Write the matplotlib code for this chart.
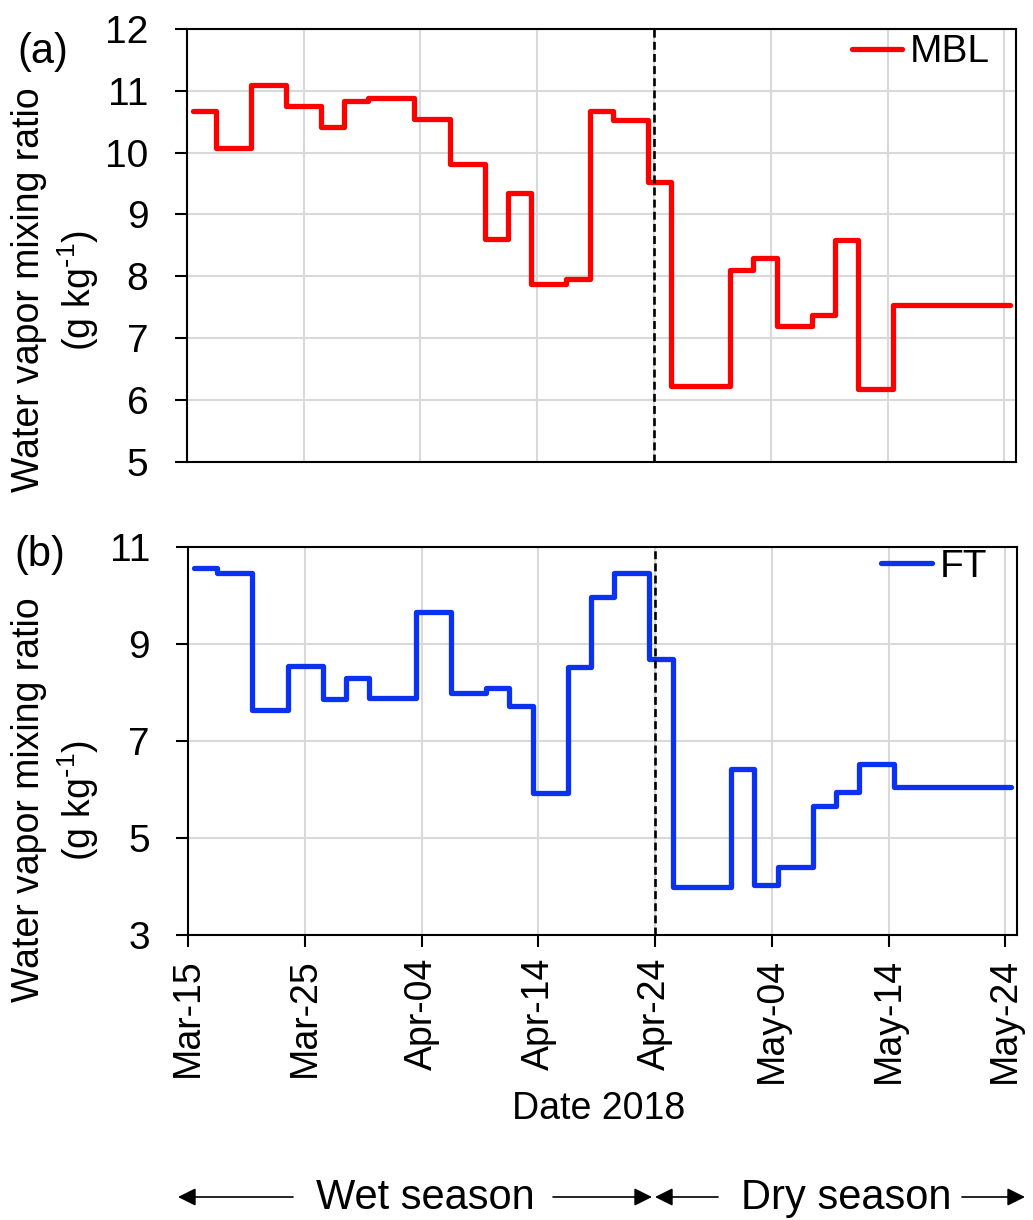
import matplotlib
matplotlib.use('Agg')
import matplotlib.pyplot as plt
import matplotlib.dates as mdates
import datetime as dt

plt.rcParams['font.family'] = ['Liberation Sans', 'DejaVu Sans']
plt.rcParams['mathtext.default'] = 'regular'

# ---------------- data ----------------
start_date = dt.datetime(2018, 3, 15)
# step edges, days after Mar-15
edge_days = [0.5, 2.5, 5.5, 8.5, 11.5, 13.5, 15.5, 19.5, 22.5, 25.5, 27.5, 29.5,
             32.5, 34.5, 36.5, 39.5, 41.5, 46.5, 48.5, 50.5, 53.5, 55.5, 57.5, 60.5, 70.5]
mbl = [10.68, 10.07, 11.10, 10.76, 10.42, 10.83, 10.88, 10.55, 9.82, 8.60, 9.35, 7.87,
       7.95, 10.68, 10.53, 9.52, 6.22, 8.10, 8.30, 7.20, 7.37, 8.59, 6.17, 7.53]
ft = [10.57, 10.46, 7.64, 8.55, 7.86, 8.30, 7.89, 9.65, 8.00, 8.09, 7.72, 5.92,
      8.52, 9.96, 10.47, 8.70, 3.98, 6.43, 4.03, 4.41, 5.65, 5.94, 6.53, 6.05]
tick_dates = ['2018-03-15', '2018-03-25', '2018-04-04', '2018-04-14',
              '2018-04-24', '2018-05-04', '2018-05-14', '2018-05-24']
season_split = '2018-04-24'
x_limits = ['2018-03-15', '2018-05-25']
yticks_a = [5, 6, 7, 8, 9, 10, 11, 12]
yticks_b = [3, 5, 7, 9, 11]
series_names = ['MBL', 'FT']
panel_labels = ['(a)', '(b)']
season_names = ['Wet season', 'Dry season']
ylabel_line1 = 'Water vapor mixing ratio'
ylabel_line2 = r'(g kg$^{\text{-}1}$)'
xlabel = 'Date 2018'

# ---------------- figure ----------------
W, H = 1033, 1220
fig = plt.figure(figsize=(W / 100, H / 100), dpi=100)


def fx(px):
    return px / W


def fy(py):
    return 1 - py / H


ax1 = fig.add_axes([fx(186.7), fy(461.7), fx(1016 - 186.7), (461.7 - 29) / H])
ax2 = fig.add_axes([fx(188.3), fy(935), fx(1017 - 188.3), (935 - 547) / H])

edges = [mdates.date2num(start_date + dt.timedelta(days=d)) for d in edge_days]
tick_nums = [mdates.date2num(dt.datetime.fromisoformat(t)) for t in tick_dates]
split_num = mdates.date2num(dt.datetime.fromisoformat(season_split))
xlim = [mdates.date2num(dt.datetime.fromisoformat(t)) for t in x_limits]

colors = ['#ff0000', '#0a32f0']
grid_c = '#d9d9d9'
LW = 3.8

for ax, vals, col, name, yt in [(ax1, mbl, colors[0], series_names[0], yticks_a),
                                 (ax2, ft, colors[1], series_names[1], yticks_b)]:
    ax.step(edges, vals + [vals[-1]], where='post', color=col, lw=LW,
            solid_capstyle='round', solid_joinstyle='round', zorder=3, label=name)
    ax.axvline(split_num, color='black', lw=1.9, ls=(0, (3.0, 1.6)), zorder=4)
    ax.set_xlim(xlim)
    ax.set_ylim(yt[0], yt[-1])
    ax.set_yticks(yt)
    ax.set_xticks(tick_nums)
    ax.xaxis.set_major_formatter(mdates.DateFormatter('%b-%d'))
    ax.grid(True, color=grid_c, lw=1.5, zorder=0)
    ax.set_axisbelow(True)
    for s in ax.spines.values():
        s.set_linewidth(1.5)
    ax.tick_params(axis='y', direction='out', length=8.6, width=1.5, pad=19,
                   labelsize=28)
    ax.tick_params(axis='x', direction='out', length=8.6, width=1.5, pad=8,
                   labelsize=27, labelrotation=90)

ax1.tick_params(axis='x', length=0, labelbottom=False)

# legends
for ax, anchor in [(ax1, (0.9687, 0.988)), (ax2, (0.9638, 0.995))]:
    ax.legend(loc='upper right', bbox_to_anchor=anchor, frameon=False, fontsize=28,
              handlelength=1.3, handletextpad=0.2, borderaxespad=0, borderpad=0)

# panel labels
fig.text(fx(43), fy(52), panel_labels[0], fontsize=30, ha='center', va='center')
fig.text(fx(40), fy(555), panel_labels[1], fontsize=30, ha='center', va='center')

# y labels
for yc in [290, 800]:
    fig.text(fx(29), fy(yc), ylabel_line1, fontsize=27, rotation=90,
             ha='center', va='center', rotation_mode='anchor')
    fig.text(fx(78), fy(yc), ylabel_line2, fontsize=27, rotation=90,
             ha='center', va='center', rotation_mode='anchor')

# x label
ax2.set_xlabel(xlabel, fontsize=27)
ax2.xaxis.set_label_coords(fx(599), fy(1091), transform=fig.transFigure)

# season annotation
fig.text(fx(425), fy(1209), season_names[0], fontsize=30, ha='center', va='baseline')
fig.text(fx(846), fy(1209), season_names[1], fontsize=30, ha='center', va='baseline')
arrow_y = H - 1197
for tail, tip in [(293, 178), (553, 652), (718, 655), (962, 1025)]:
    fig.add_artist(matplotlib.patches.FancyArrowPatch(
        (tail, arrow_y), (tip, arrow_y), transform=None,
        arrowstyle='-|>,head_length=0.6,head_width=0.3', mutation_scale=18,
        color='black', lw=1.2, shrinkA=0, shrinkB=0))

fig.savefig('out.png', dpi=100)
